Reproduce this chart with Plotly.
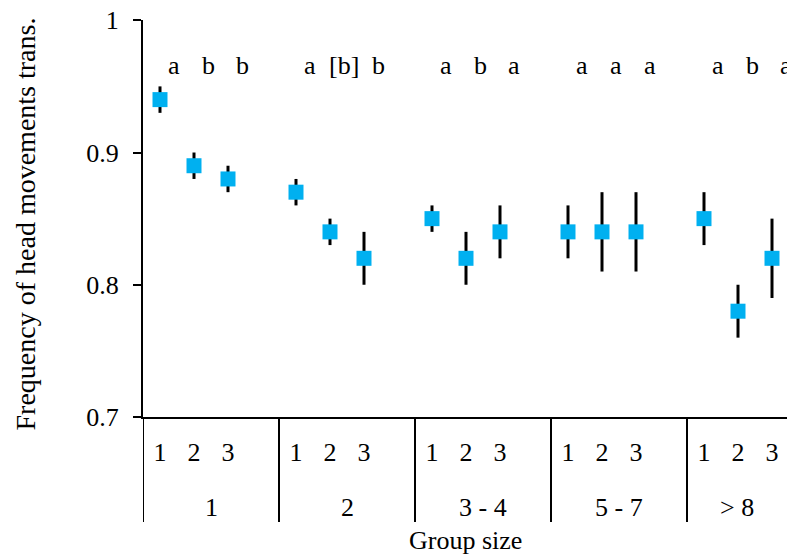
import plotly.graph_objects as go

# ---- data ----
group_labels = ["1", "2", "3 - 4", "5 - 7", "> 8"]
sub_labels = ["1", "2", "3"]
values = [0.94, 0.89, 0.88,
          0.87, 0.84, 0.82,
          0.85, 0.82, 0.84,
          0.84, 0.84, 0.84,
          0.85, 0.78, 0.82]
err_plus = [0.01, 0.01, 0.01,
            0.01, 0.01, 0.02,
            0.01, 0.02, 0.02,
            0.02, 0.03, 0.03,
            0.02, 0.02, 0.03]
err_minus = [0.01, 0.01, 0.01,
             0.01, 0.01, 0.02,
             0.01, 0.02, 0.02,
             0.02, 0.03, 0.03,
             0.02, 0.02, 0.03]
letters = ["a", "b", "b",
           "a", "[b]", "b",
           "a", "b", "a",
           "a", "a", "a",
           "a", "b", "a"]
y_ticks = [0.7, 0.8, 0.9, 1.0]
y_tick_text = ["0.7", "0.8", "0.9", "1"]
letter_level = 0.966
x_title = "Group size"
y_title = "Frequency of head movements trans."

# ---- layout helpers ----
slots = len(sub_labels) + 1  # one empty slot after each group
xs = [g * slots + k for g in range(len(group_labels)) for k in range(len(sub_labels))]
sub_text = [sub_labels[k] for g in range(len(group_labels)) for k in range(len(sub_labels))]

FONT = "Palatino Linotype, Book Antiqua, Liberation Serif, serif"
FS = 26

fig = go.Figure()
fig.add_trace(go.Scatter(
    x=xs, y=values, mode="markers",
    marker=dict(symbol="square", size=15, color="#00B0F0"),
    error_y=dict(type="data", symmetric=False, array=err_plus, arrayminus=err_minus,
                 color="black", thickness=3, width=0),
    showlegend=False, cliponaxis=False,
))

W, H = 787, 556
ml, mr, mt, mb = 143, 0, 20, 139
plot_h = H - mt - mb
plot_w = W - ml - mr
x_left = -0.5
x_right = x_left + plot_w / 34.0

annotations = []
for x, t in zip(xs, letters):
    annotations.append(dict(x=x, y=letter_level, xref="x", yref="y", text=t,
                            showarrow=False, xshift=14,
                            font=dict(family=FONT, size=FS, color="black")))
for g, lab in enumerate(group_labels):
    g0 = g * slots - 0.5
    g1 = min(g0 + slots, x_right)
    annotations.append(dict(x=(g0 + g1) / 2, y=-90 / plot_h, xref="x", yref="paper",
                            text=lab, showarrow=False, yanchor="middle",
                            font=dict(family=FONT, size=FS, color="black")))
annotations.append(dict(x=0.5, y=-123 / plot_h, xref="paper", yref="paper",
                        text=x_title, showarrow=False, yanchor="middle",
                        font=dict(family=FONT, size=FS, color="black")))
annotations.append(dict(x=-(ml - 25) / plot_w, y=0.485, xref="paper", yref="paper",
                        text=y_title, showarrow=False, textangle=-90,
                        xanchor="center", yanchor="middle",
                        font=dict(family=FONT, size=28, color="black")))

shapes = []
for g in range(len(group_labels)):
    xsep = g * slots - 0.5
    shapes.append(dict(type="line", xref="x", yref="paper", x0=xsep, x1=xsep,
                       y0=0, y1=-105 / plot_h, line=dict(color="black", width=2)))

fig.update_layout(
    width=W, height=H,
    margin=dict(l=ml, r=mr, t=mt, b=mb, autoexpand=False),
    plot_bgcolor="white", paper_bgcolor="white",
    font=dict(family=FONT, size=FS, color="black"),
    annotations=annotations, shapes=shapes,
    xaxis=dict(range=[x_left, x_right], tickvals=xs, ticktext=sub_text,
               ticks="", ticklabelstandoff=11, automargin=False,
               showgrid=False, zeroline=False, showline=True, linecolor="black",
               linewidth=2, tickfont=dict(family=FONT, size=FS)),
    yaxis=dict(range=[0.7, 1.0002], tickvals=y_ticks, ticktext=y_tick_text,
               ticks="outside", ticklen=8, tickcolor="black", tickwidth=2,
               ticklabelstandoff=9, automargin=False,
               showgrid=False, zeroline=False, showline=True, linecolor="black",
               linewidth=2, tickfont=dict(family=FONT, size=FS)),
)

fig.write_html("out.html",
               config={"displayModeBar": False},
               post_script="document.body.style.margin='0';document.body.style.overflow='hidden';")
